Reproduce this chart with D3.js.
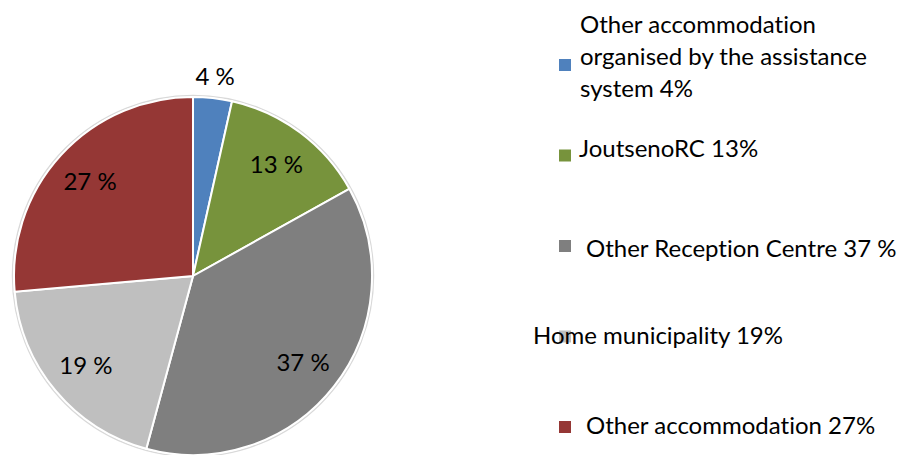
<!DOCTYPE html>
<html>
<head>
<meta charset="utf-8">
<script src="https://cdn.jsdelivr.net/npm/d3@7"></script>
<style>
  body { margin: 0; background: #fff; }
  text { font-family: Lato, "Open Sans", sans-serif; fill: #000; font-variant-ligatures: none; }
</style>
</head>
<body>
<div id="chart"></div>
<script>
// slice order = clockwise from 12 o'clock
var categories = ["Other accommodation organised by the assistance system 4%",
                  "JoutsenoRC 13%",
                  "Other Reception Centre 37 %",
                  "Home municipality 19%",
                  "Other accommodation 27%"];
var values = [3.5, 13.4, 37.3, 19.4, 26.4];
var sliceLabels = ["4 %", "13 %", "37 %", "19 %", "27 %"];
var legendLines = [["Other accommodation", "organised by the assistance", "system 4%"],
                   ["JoutsenoRC 13%"],
                   ["Other Reception Centre 37 %"],
                   ["Home municipality 19%"],
                   ["Other accommodation 27%"]];
var colors = ["#4f81bd", "#77933c", "#7f7f7f", "#bfbfbf", "#953735"];

function init() {
    var w = 902;
    var h = 455;
    var cx = 193, cy = 276, r = 179;
    var fontSize = 24;

    var svg = d3.select("#chart")
                .append("svg")
                .attr("width", w)
                .attr("height", h);

    var color = d3.scaleOrdinal()
                  .domain(categories)
                  .range(colors);

    var pie = d3.pie()
                .sort(null)
                .value(function(d, i) { return values[i]; });

    var arcs = pie(categories);

    var arc = d3.arc().innerRadius(0).outerRadius(r);
    var labelArc = d3.arc().innerRadius(r * 0.78).outerRadius(r * 0.78);
    var outerArc = d3.arc().innerRadius(r + 22).outerRadius(r + 22);

    var g = svg.append("g")
               .attr("transform", "translate(" + cx + "," + cy + ")");

    // faint outer edge
    g.append("circle")
     .attr("r", r + 1.5)
     .attr("fill", "none")
     .attr("stroke", "#d9d9d9")
     .attr("stroke-width", 1.5);

    g.selectAll("path")
        .data(arcs)
        .enter()
        .append("path")
        .attr("d", arc)
        .attr("fill", function(d) { return color(d.data); })
        .attr("stroke", "#fff")
        .attr("stroke-width", 2);

    g.selectAll("text.lbl")
        .data(arcs)
        .enter()
        .append("text")
        .attr("class", "lbl")
        .attr("transform", function(d, i) {
            var c = values[i] < 5 ? outerArc.centroid(d) : labelArc.centroid(d);
            return "translate(" + c + ")";
        })
        .attr("text-anchor", "middle")
        .attr("dy", "0.36em")
        .style("font-size", fontSize + "px")
        .text(function(d, i) { return sliceLabels[i]; });

    // legend
    var ly = d3.scalePoint()
               .domain(categories)
               .range([65, 427]);

    // per-item text placement (x of text, baseline offset of first line)
    var textX = [580, 579, 586, 533, 586];
    var textDy = [-32, 1, 11, 7, 7];

    var items = svg.selectAll("g.leg")
        .data(categories)
        .enter()
        .append("g")
        .attr("class", "leg")
        .attr("transform", function(d) { return "translate(0," + ly(d) + ")"; });

    items.append("rect")
        .attr("x", 559)
        .attr("y", -6)
        .attr("width", 12)
        .attr("height", 12)
        .attr("fill", function(d) { return color(d); });

    items.each(function(d, i) {
        var t = d3.select(this).append("text")
                  .style("font-size", fontSize + "px");
        legendLines[i].forEach(function(line, j) {
            t.append("tspan")
             .attr("x", textX[i])
             .attr("y", textDy[i] + j * 32)
             .text(line);
        });
    });
}

window.onload = init;
</script>
</body>
</html>
